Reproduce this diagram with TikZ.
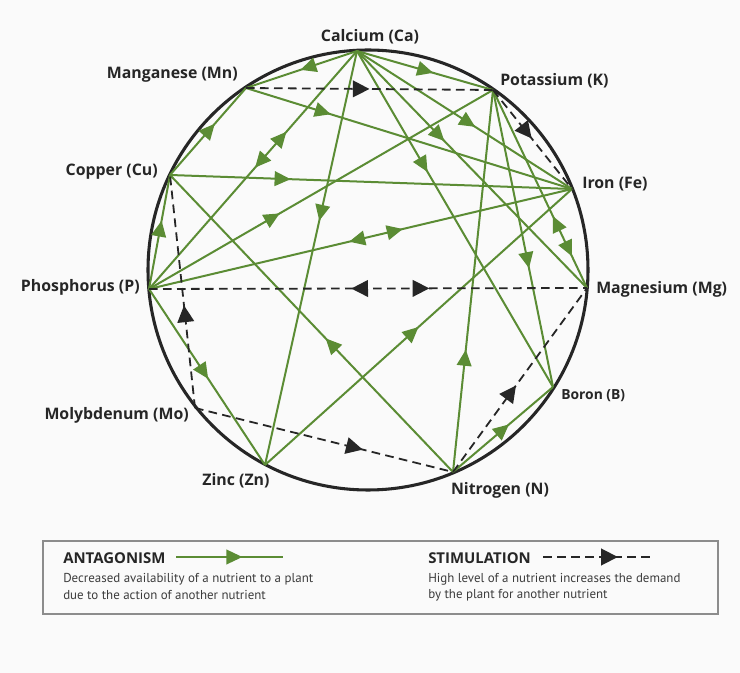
\documentclass[tikz,border=0pt]{standalone}
\usepackage{fontspec}
\setmainfont{PT Sans}
\newfontfamily\labfont{Open Sans}
\usetikzlibrary{arrows.meta,decorations.markings}
\definecolor{grn}{HTML}{5B8C34}
\definecolor{blk}{HTML}{262626}
\definecolor{bg}{HTML}{FAFAFA}
\definecolor{boxc}{HTML}{8C8C8C}
\tikzset{
  gtip/.tip={Triangle[length=12pt,width=11pt]},
  btip/.tip={Triangle[length=12.5pt,width=12.5pt]},
  ant/.style={draw=grn, line width=1.5pt, postaction={decorate},
    decoration={markings, mark=at position #1 with {\arrow[grn]{gtip}}}},
  antb/.style 2 args={draw=grn, line width=1.5pt, postaction={decorate},
    decoration={markings,
      mark=at position #1 with {\arrow[grn]{gtip[reversed]}},
      mark=at position #2 with {\arrow[grn]{gtip}}}},
  stim/.style={draw=blk, line width=1.35pt, dash pattern=on 6.5pt off 4pt, postaction={decorate},
    decoration={markings, mark=at position #1 with {\arrow[blk]{btip}}}},
  stimb/.style 2 args={draw=blk, line width=1.35pt, dash pattern=on 6.5pt off 4pt, postaction={decorate},
    decoration={markings,
      mark=at position #1 with {\arrow[blk]{btip[reversed]}},
      mark=at position #2 with {\arrow[blk]{btip}}}},
  lab/.style={font=\labfont\bfseries\fontsize{11.9}{13}\selectfont, text=blk, inner sep=0pt},
  ttl/.style={font=\labfont\bfseries\fontsize{11.2}{13}\selectfont, text=blk, inner sep=0pt, anchor=west},
  desc/.style={font=\fontsize{9.7}{11}\selectfont, text=blk!90, inner sep=0pt, anchor=west},
}
\begin{document}
\begin{tikzpicture}[x=0.75pt,y=-0.75pt]
\useasboundingbox (0,0) rectangle (740,673);
\fill[bg] (0,0) rectangle (740,673);

% circle
\coordinate (O) at (368,270);
\draw[blk, line width=2.3pt] (O) circle (165pt);

% nutrient points
\coordinate (Ca) at (357,51);
\coordinate (Mn) at (246,88);
\coordinate (K)  at (493,90);
\coordinate (Cu) at (170,175);
\coordinate (Fe) at (572,189);
\coordinate (P)  at (149,289);
\coordinate (Mg) at (587,288);
\coordinate (Mo) at (195,408);
\coordinate (Zn) at (265,465);
\coordinate (N)  at (453,472);
\coordinate (B)  at (553,387);

% antagonism
\draw[ant=0.51] (Ca) -- (Mn);
\draw[ant=0.56] (Ca) -- (K);
\draw[antb={0.39}{0.49}] (Ca) -- (P);
\draw[ant=0.41] (Ca) -- (Zn);
\draw[ant=0.55] (Ca) -- (Fe);
\draw[ant=0.38] (Ca) -- (Mg);
\draw[ant=0.36] (Ca) -- (B);
\draw[ant=0.59] (Cu) -- (Mn);
\draw[ant=0.26] (Mn) -- (Fe);
\draw[ant=0.38] (P) -- (K);
\draw[ant=0.32] (N) -- (K);
\draw[ant=0.60] (K) -- (B);
\draw[antb={0.71}{0.84}] (K) -- (Mg);
\draw[ant=0.30] (Cu) -- (Fe);
\draw[antb={0.51}{0.60}] (P) -- (Fe);
\draw[ant=0.60] (P) -- (Cu);
\draw[ant=0.51] (P) -- (Zn);
\draw[ant=0.45] (N) -- (Cu);
\draw[ant=0.50] (Zn) -- (Fe);
\draw[ant=0.56] (N) -- (B);

% stimulation
\draw[stim=0.50] (Mn) -- (K);
\draw[stim=0.49] (K) -- (Fe);
\draw[stimb={0.50}{0.64}] (P) -- (Mg);
\draw[stim=0.44] (Mo) -- (Cu);
\draw[stim=0.65] (Mo) -- (N);
\draw[stim=0.47] (N) -- (Mg);

% labels
\node[lab] (lCa) at (370,37) {Calcium (Ca)};
\node[lab, anchor=east] (lMn) at (238,75) {Manganese (Mn)};
\node[lab, anchor=west] (lK) at (500,81) {Potassium (K)};
\node[lab, anchor=east] (lCu) at (158,172) {Copper (Cu)};
\node[lab, anchor=west] (lFe) at (582,184) {Iron (Fe)};
\node[lab, anchor=east] (lP) at (140,287) {Phosphorus (P)};
\node[lab, anchor=west] (lMg) at (596,289) {Magnesium (Mg)};
\node[lab, anchor=east] (lMo) at (189,415) {Molybdenum (Mo)};
\node[lab] (lZn) at (236,481) {Zinc (Zn)};
\node[lab] (lN) at (500,490) {Nitrogen (N)};
\node[lab, anchor=west, font=\labfont\bfseries\fontsize{10.4}{12}\selectfont] (lB) at (561,396) {Boron (B)};

% legend
\draw[boxc, line width=0.8pt] (43,541) rectangle (718,614);
\node[ttl] (tA) at (63,558) {ANTAGONISM};
\coordinate (a1) at (176,557);
\coordinate (a2) at (283,557);
\draw[ant=0.62] (a1) -- (a2);
\node[desc] (dA1) at (63,579) {Decreased availability of a nutrient to a plant};
\node[desc] (dA2) at (63,595) {due to the action of another nutrient};

\node[ttl] (tS) at (428,558) {STIMULATION};
\coordinate (s1) at (543,557);
\coordinate (s2) at (653,557);
\draw[stim=0.68] (s1) -- (s2);
\node[desc] (dS1) at (428,579) {High level of a nutrient increases the demand};
\node[desc] (dS2) at (428,595) {by the plant for another nutrient};
\end{tikzpicture}
\end{document}
